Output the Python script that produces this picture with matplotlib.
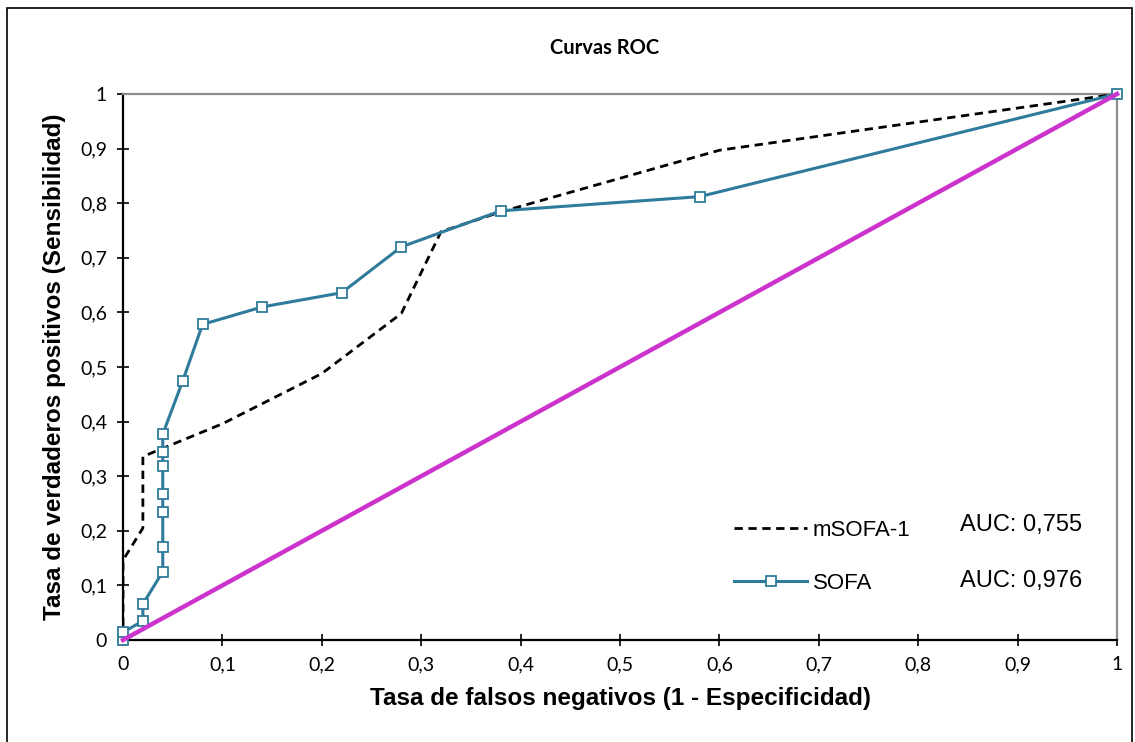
import matplotlib.pyplot as plt
from matplotlib.patches import Rectangle
from matplotlib.ticker import FuncFormatter

# curva mSOFA-1 (linea discontinua)
msofa_x = [0, 0, 0.02, 0.02, 0.1, 0.2, 0.28, 0.32, 0.38, 0.6, 1.0]
msofa_y = [0, 0.146, 0.205, 0.336, 0.396, 0.488, 0.598, 0.748, 0.784, 0.897, 1.0]

# curva SOFA (con marcadores)
sofa_x = [0, 0, 0.02, 0.02, 0.04, 0.04, 0.04, 0.04, 0.04, 0.04, 0.04,
          0.06, 0.08, 0.14, 0.22, 0.28, 0.38, 0.58, 1.0]
sofa_y = [0, 0.014, 0.035, 0.066, 0.125, 0.171, 0.235, 0.267, 0.319, 0.345, 0.377,
          0.474, 0.578, 0.610, 0.636, 0.720, 0.786, 0.812, 1.0]

diag = [0, 1]
auc_labels = ['AUC: 0,755', 'AUC: 0,976']
ticks = [0, 0.1, 0.2, 0.3, 0.4, 0.5, 0.6, 0.7, 0.8, 0.9, 1.0]

def coma(v, pos):
    s = ('%.1f' % v).rstrip('0').rstrip('.')
    return s.replace('.', ',')

fig = plt.figure(figsize=(11.35, 7.42), dpi=100)
ax = fig.add_axes([123 / 1135, 102 / 742, 994 / 1135, 546 / 742])

sofa_col = '#2f7b9c'
ax.plot(msofa_x, msofa_y, color='black', lw=2, dashes=(3, 2), label='mSOFA-1', zorder=3)
ax.plot(sofa_x, sofa_y, color=sofa_col, lw=2.2, marker='s', ms=7, mfc='white',
        mec=sofa_col, mew=1.3, label='SOFA', zorder=4, clip_on=False)
ax.plot(diag, diag, color='#cc33cc', lw=3.2, zorder=5, clip_on=False)

ax.set_xlim(0, 1)
ax.set_ylim(0, 1)
ax.set_xticks(ticks)
ax.set_yticks(ticks)
ax.xaxis.set_major_formatter(FuncFormatter(coma))
ax.yaxis.set_major_formatter(FuncFormatter(coma))
ax.tick_params(direction='inout', length=9, width=1.2, labelsize=14, pad=7)
for lab in ax.get_xticklabels() + ax.get_yticklabels():
    lab.set_fontfamily('Lato')

for s in ['left', 'bottom']:
    ax.spines[s].set_linewidth(1.6)
    ax.spines[s].set_color('black')
for s in ['top', 'right']:
    ax.spines[s].set_linewidth(1.6)
    ax.spines[s].set_color('#8c8c8c')

ax.set_xlabel('Tasa de falsos negativos (1 - Especificidad)', fontsize=17.5,
              fontweight='bold', family='Liberation Sans', labelpad=10)
ax.set_ylabel('Tasa de verdaderos positivos (Sensibilidad)', fontsize=17.5,
              fontweight='bold', family='Liberation Sans', labelpad=10)
fig.text(605 / 1135, 1 - 48 / 742, 'Curvas ROC', ha='center', va='center',
         fontsize=14.5, fontweight='bold', family='Lato')

leg = ax.legend(loc='upper left', bbox_to_anchor=(714 / 1135, 1 - 500 / 742),
                bbox_transform=fig.transFigure, frameon=False, handlelength=3.3,
                handletextpad=0.25, labelspacing=1.45,
                prop={'family': 'Liberation Sans', 'size': 16})
fig.text(960 / 1135, 1 - 525 / 742, auc_labels[0], ha='left', va='center',
         fontsize=17, family='Liberation Sans')
fig.text(960 / 1135, 1 - 581 / 742, auc_labels[1], ha='left', va='center',
         fontsize=17, family='Liberation Sans')

fig.patches.append(Rectangle((7 / 1135, -0.05), 1125 / 1135, 1.05 - 8 / 742,
                             transform=fig.transFigure, fill=False,
                             edgecolor='black', lw=1.2))

fig.savefig('out.png', dpi=100)
